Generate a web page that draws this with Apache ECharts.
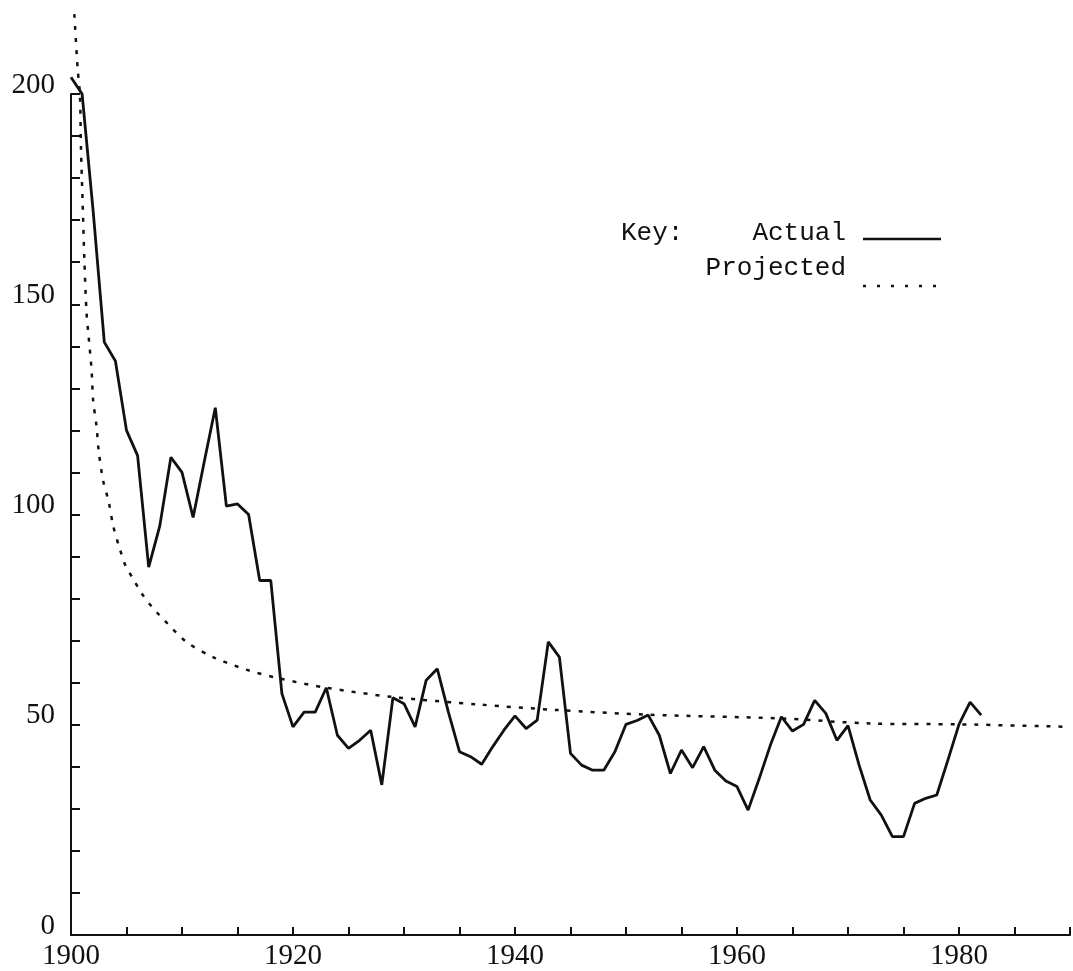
<!DOCTYPE html>
<html>
<head>
<meta charset="utf-8">
<title>Actual vs Projected</title>
<script src="https://cdn.jsdelivr.net/npm/echarts@6/dist/echarts.min.js"></script>
<style>
  html, body { margin: 0; padding: 0; background: #fff; }
  #chart { width: 1073px; height: 971px; }
</style>
</head>
<body>
<div id="chart"></div>
<script>
// actual, one value a year
const actualYears = [
  1900, 1901, 1902, 1903, 1904, 1905, 1906, 1907, 1908, 1909,
  1910, 1911, 1912, 1913, 1914, 1915, 1916, 1917, 1918, 1919,
  1920, 1921, 1922, 1923, 1924, 1925, 1926, 1927, 1928, 1929,
  1930, 1931, 1932, 1933, 1934, 1935, 1936, 1937, 1938, 1939,
  1940, 1941, 1942, 1943, 1944, 1945, 1946, 1947, 1948, 1949,
  1950, 1951, 1952, 1953, 1954, 1955, 1956, 1957, 1958, 1959,
  1960, 1961, 1962, 1963, 1964, 1965, 1966, 1967, 1968, 1969,
  1970, 1971, 1972, 1973, 1974, 1975, 1976, 1977, 1978, 1979,
  1980, 1981, 1982
]
const actualValues = [
  204, 200, 172, 141, 136.5, 120, 114, 87.5, 97.3, 113.6,
  110, 99.3, 112.5, 125.4, 102, 102.5, 100, 84.3, 84.3, 57.4,
  49.5, 53, 53, 58.8, 47.5, 44.4, 46.3, 48.7, 35.7, 56.4,
  55, 49.5, 60.6, 63.3, 53, 43.6, 42.4, 40.6, 44.8, 48.7,
  52.1, 49.1, 51.1, 69.7, 66.1, 43.2, 40.4, 39.2, 39.2, 43.6,
  50.1, 51, 52.3, 47.5, 38.4, 44, 39.8, 44.8, 39.2, 36.6,
  35.3, 29.7, 37.2, 45.1, 51.9, 48.5, 50.1, 55.8, 52.7, 46.3,
  49.8, 40.4, 32.1, 28.5, 23.4, 23.4, 31.3, 32.5, 33.3, 41.6,
  50.1, 55.4, 52.3
]

// projected curve
const projectedYears = [
  1900.3, 1900.6, 1900.8, 1900.9, 1901.05, 1901.2, 1901.4, 1901.6, 1901.85, 1902.0,
  1902.3, 1902.5, 1902.9, 1903.4, 1903.8, 1904.4, 1904.9, 1905.6, 1906.4, 1907.3,
  1908.0, 1910.4, 1912.8, 1915.8, 1918.8, 1923, 1929, 1936.8, 1943.8, 1951.9,
  1963.9, 1972, 1980, 1990
]
const projectedValues = [
  219, 206, 200, 187, 174, 161, 148, 142, 134.5, 127,
  121, 115, 108, 103, 97.3, 91.8, 87.9, 84.7, 81.1, 78,
  76, 69.7, 66.1, 63.1, 61, 58.8, 56.6, 54.8, 53.5, 52.4,
  51.5, 50.3, 50.1, 49.5
]

const xLabelYears = [1900, 1920, 1940, 1960, 1980]
const yLabelValues = [0, 50, 100, 150, 200]

const ink = '#111'
const serif = '"Liberation Serif", "DejaVu Serif", serif'
const mono = '"Liberation Mono", "DejaVu Sans Mono", monospace'
const keyFont = '26px ' + mono

const chart = echarts.init(document.getElementById('chart'))

chart.setOption({
  animation: false,
  backgroundColor: '#fff',
  // the key, typed like the original
  graphic: [
    {
      type: 'text',
      left: 621,
      top: 220,
      style: { text: 'Key:', font: keyFont, fill: ink }
    },
    {
      type: 'text',
      x: 846,
      y: 233,
      style: { text: 'Actual', font: keyFont, fill: ink, align: 'right', verticalAlign: 'middle' }
    },
    {
      type: 'line',
      shape: { x1: 863, y1: 239, x2: 941, y2: 239 },
      style: { stroke: ink, lineWidth: 2.5 }
    },
    {
      type: 'text',
      x: 846,
      y: 268,
      style: { text: 'Projected', font: keyFont, fill: ink, align: 'right', verticalAlign: 'middle' }
    },
    {
      type: 'line',
      shape: { x1: 863, y1: 286, x2: 943, y2: 286 },
      style: { stroke: ink, lineWidth: 2.5, lineDash: [3, 11] }
    }
  ],
  grid: {
    left: 71,
    right: 3,
    top: 94,
    bottom: 34
  },
  xAxis: {
    type: 'value',
    min: 1900,
    max: 1990,
    interval: 5,
    splitLine: { show: false },
    axisLine: { lineStyle: { color: ink, width: 2 } },
    axisTick: { inside: true, length: 8, lineStyle: { color: ink, width: 2 } },
    axisLabel: {
      margin: 7,
      color: ink,
      fontFamily: serif,
      fontSize: 29,
      formatter: v => (xLabelYears.indexOf(v) >= 0 ? String(v) : '')
    }
  },
  yAxis: {
    type: 'value',
    min: 0,
    max: 200,
    interval: 10,
    splitLine: { show: false },
    axisLine: { show: true, lineStyle: { color: ink, width: 2 } },
    axisTick: { show: true, inside: true, length: 9, lineStyle: { color: ink, width: 2 } },
    axisLabel: {
      margin: 16,
      color: ink,
      fontFamily: serif,
      fontSize: 29,
      verticalAlign: 'bottom',
      lineHeight: 18,
      formatter: v => (yLabelValues.indexOf(v) >= 0 ? String(v) : '')
    }
  },
  series: [
    {
      name: 'Actual',
      type: 'line',
      clip: false,
      symbol: 'none',
      data: actualYears.map((y, i) => [y, actualValues[i]]),
      lineStyle: { color: ink, width: 2.8 }
    },
    {
      name: 'Projected',
      type: 'line',
      clip: false,
      symbol: 'none',
      smooth: 0.3,
      data: projectedYears.map((y, i) => [y, projectedValues[i]]),
      lineStyle: { color: ink, width: 2.5, type: [4, 8] }
    }
  ]
})

window.addEventListener('resize', () => chart.resize())
</script>
</body>
</html>
